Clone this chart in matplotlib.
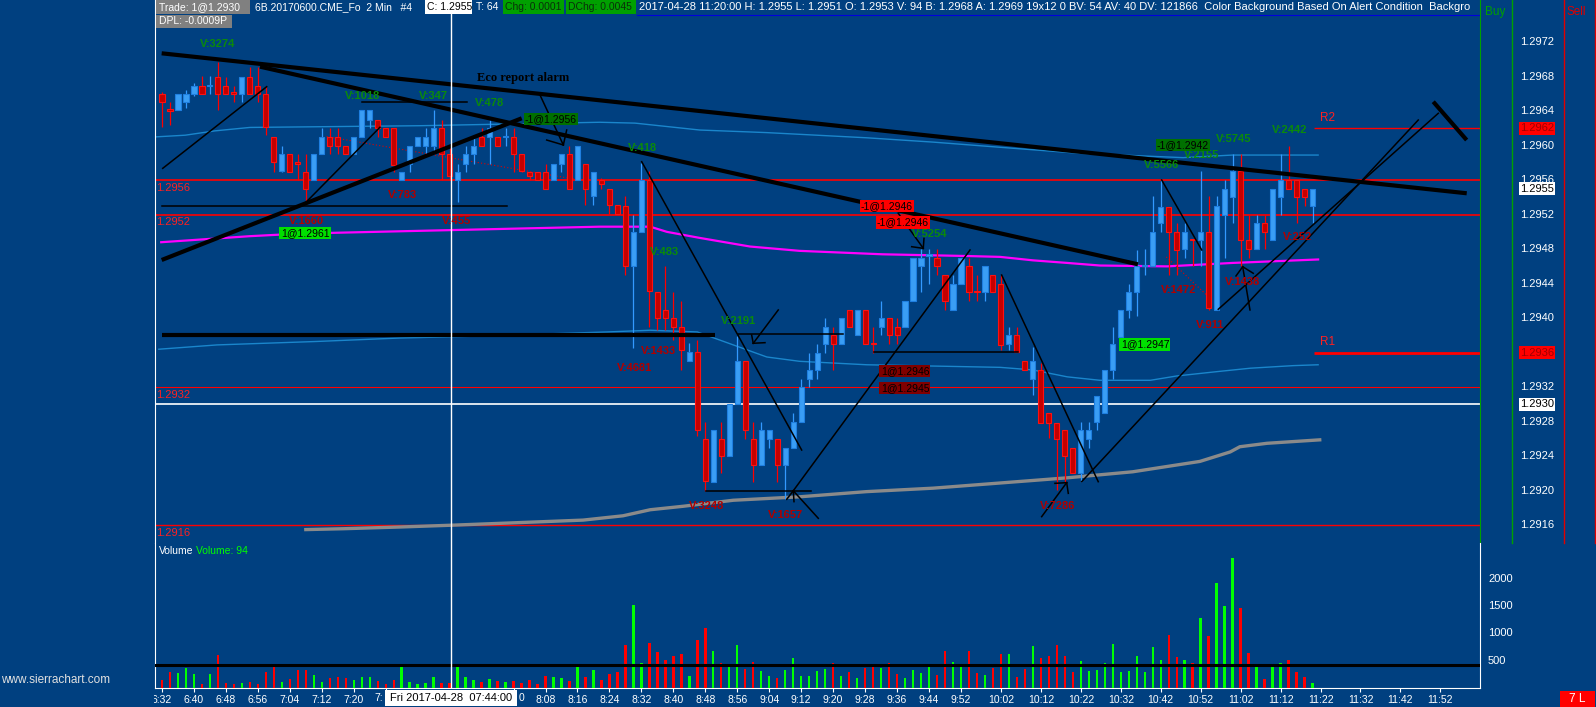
import matplotlib
matplotlib.use("Agg")
import matplotlib.pyplot as plt
from matplotlib.patches import Rectangle
from matplotlib.lines import Line2D
from matplotlib.transforms import blended_transform_factory

plt.rcParams['font.family'] = ['Liberation Sans', 'DejaVu Sans']

W, H = 1596, 707
BG = '#004080'

# 2 min bars 6:32 .. 11:20, prices in pips above 1.2900
opens = [66.0, 64.2, 64.1, 65.1, 66.0, 66.9, 66.9, 68.0, 66.9, 66.1,
         66.0, 68.0, 66.9, 66.0, 61.0, 57.1, 59.0, 58.0, 56.9, 56.0,
         59.0, 61.0, 61.0, 60.0, 59.0, 61.0, 63.0, 63.0, 62.0, 62.0,
         56.0, 57.9, 59.9, 59.9, 60.0, 62.0, 59.0, 56.0, 57.9, 59.0,
         61.0, 61.0, 61.0, 61.0, 61.0, 59.0, 56.9, 56.9, 56.9, 56.0,
         57.9, 59.0, 56.0, 57.9, 54.1, 56.0, 55.0, 53.1, 53.0, 46.0,
         50.0, 56.0, 43.0, 41.0, 40.0, 39.0, 35.0, 36.1, 26.0, 21.0,
         26.0, 24.0, 30.0, 35.0, 26.0, 23.0, 26.0, 26.0, 23.0, 25.0,
         28.0, 33.0, 34.0, 37.0, 38.0, 37.0, 41.0, 38.0, 41.0, 37.1,
         39.0, 40.0, 39.0, 39.0, 42.0, 46.0, 47.2, 47.0, 45.0, 41.0,
         44.0, 46.0, 43.1, 43.0, 45.0, 44.0, 37.0, 38.0, 35.0, 33.0,
         34.0, 29.0, 27.9, 27.0, 25.0, 22.0, 26.0, 28.0, 29.0, 34.0,
         37.8, 41.0, 43.0, 46.0, 46.0, 51.0, 52.9, 50.0, 48.0, 49.1,
         49.0, 50.0, 41.0, 52.0, 54.0, 57.0, 49.0, 48.0, 51.0, 49.0,
         54.0, 56.0, 56.0, 55.0, 53.0]
highs = [66.2, 65.1, 66.0, 66.4, 67.2, 68.1, 68.1, 69.7, 68.0, 66.9,
         68.0, 69.1, 69.1, 66.9, 61.0, 59.9, 59.0, 59.0, 59.0, 59.0,
         62.0, 62.0, 62.0, 60.0, 61.0, 64.1, 64.1, 63.0, 62.0, 62.0,
         56.9, 59.9, 61.0, 62.0, 64.1, 63.0, 59.9, 57.9, 59.9, 61.0,
         62.0, 63.0, 61.0, 62.0, 62.0, 59.0, 56.9, 56.9, 57.9, 57.9,
         59.0, 59.9, 59.9, 57.9, 56.9, 56.2, 55.0, 53.1, 54.1, 52.0,
         58.0, 57.0, 43.0, 46.0, 43.0, 42.0, 37.1, 37.5, 28.0, 27.0,
         28.0, 30.0, 37.9, 35.0, 28.0, 28.0, 27.0, 26.0, 25.0, 29.0,
         33.0, 36.0, 37.0, 40.0, 39.0, 40.0, 41.0, 41.0, 41.0, 39.0,
         42.0, 40.0, 40.0, 42.0, 47.0, 48.0, 48.0, 48.0, 45.0, 45.0,
         47.0, 47.0, 45.0, 46.0, 45.0, 45.0, 39.0, 39.0, 35.0, 36.7,
         34.8, 29.0, 27.9, 27.0, 25.0, 28.0, 28.0, 31.0, 34.0, 39.0,
         41.0, 44.0, 47.9, 48.0, 54.1, 56.0, 52.9, 51.0, 51.0, 49.1,
         57.0, 54.1, 54.1, 56.0, 59.0, 59.0, 52.0, 52.0, 52.0, 55.0,
         59.0, 60.0, 56.0, 55.0, 55.0]
lows = [62.1, 62.4, 64.1, 64.3, 65.8, 66.0, 66.0, 64.1, 66.0, 65.1,
        65.1, 66.0, 65.1, 61.2, 56.9, 56.9, 56.9, 56.0, 53.5, 56.0,
        59.0, 59.0, 59.0, 59.0, 59.0, 61.0, 62.0, 61.0, 61.0, 56.9,
        56.0, 56.9, 59.9, 59.0, 59.0, 56.0, 56.0, 53.5, 56.9, 57.9,
        60.0, 57.9, 60.0, 60.0, 56.9, 56.9, 56.0, 56.0, 55.0, 56.0,
        56.9, 55.0, 56.0, 53.1, 53.1, 55.0, 52.1, 52.1, 45.0, 36.5,
        50.0, 39.0, 38.6, 38.6, 37.5, 34.0, 35.0, 26.3, 20.0, 21.0,
        22.0, 24.0, 30.0, 26.0, 21.0, 23.0, 25.0, 21.0, 19.0, 25.0,
        28.0, 32.0, 33.0, 36.0, 34.0, 37.0, 39.0, 38.0, 37.0, 36.0,
        38.0, 37.0, 37.0, 39.0, 42.0, 43.0, 44.0, 45.0, 41.0, 41.0,
        44.0, 42.0, 42.0, 42.0, 43.0, 36.3, 36.3, 36.1, 34.0, 31.1,
        27.9, 26.1, 20.1, 20.9, 22.0, 21.0, 25.0, 27.0, 29.0, 33.0,
        37.8, 40.0, 40.2, 45.0, 46.0, 50.0, 45.0, 45.0, 47.0, 46.0,
        46.0, 41.0, 41.0, 47.0, 51.0, 46.0, 47.0, 48.0, 48.0, 49.0,
        52.0, 55.0, 51.0, 53.0, 51.0]
closes = [65.1, 64.0, 66.0, 66.0, 66.9, 66.0, 67.0, 66.0, 66.0, 66.0,
          68.0, 66.0, 66.0, 62.1, 58.1, 59.0, 56.9, 57.9, 55.0, 59.0,
          61.0, 60.0, 60.0, 59.0, 61.0, 64.1, 64.1, 62.0, 61.0, 57.7,
          56.9, 59.9, 61.0, 61.0, 62.0, 59.0, 56.5, 56.9, 59.0, 60.0,
          60.0, 62.0, 60.0, 61.1, 59.0, 57.1, 56.5, 56.0, 55.0, 57.9,
          59.0, 55.0, 59.9, 55.0, 56.9, 55.6, 53.1, 52.1, 46.0, 50.0,
          56.0, 43.1, 40.0, 40.0, 39.0, 36.3, 36.1, 27.0, 21.1, 27.0,
          24.0, 30.0, 35.0, 27.0, 23.0, 27.0, 27.0, 23.0, 25.0, 28.0,
          32.0, 34.0, 36.0, 39.0, 37.0, 40.0, 39.0, 41.0, 37.0, 37.0,
          40.0, 38.0, 38.0, 42.0, 47.0, 47.0, 47.4, 46.0, 42.0, 44.0,
          47.0, 43.0, 43.0, 46.0, 43.0, 36.9, 38.0, 36.1, 34.0, 35.0,
          27.9, 27.9, 26.0, 24.0, 22.0, 27.0, 27.0, 31.0, 34.0, 37.0,
          41.0, 43.0, 46.0, 46.2, 50.0, 52.9, 50.0, 47.9, 50.0, 49.0,
          50.0, 41.2, 53.0, 55.0, 57.0, 49.0, 48.0, 51.0, 50.0, 55.0,
          56.0, 55.0, 54.0, 54.0, 55.0]
volumes = [146, 299, 268, 372, 256, 73, 256, 598, 85, 73,
           92, 104, 73, 293, 384, 110, 165, 329, 329, 238,
           110, 189, 201, 189, 146, 201, 201, 128, 73, 146,
           403, 110, 73, 92, 201, 92, 92, 384, 201, 146,
           110, 165, 128, 110, 128, 92, 146, 73, 220, 201,
           189, 128, 384, 201, 329, 146, 256, 293, 787, 1519,
           457, 823, 659, 518, 585, 622, 220, 878, 1098, 677,
           457, 384, 787, 348, 476, 311, 220, 183, 329, 549,
           220, 220, 311, 348, 457, 220, 293, 183, 366, 403,
           366, 457, 256, 183, 329, 275, 403, 238, 677, 476,
           384, 677, 275, 238, 366, 622, 622, 201, 348, 769,
           549, 585, 787, 585, 293, 494, 311, 329, 457, 805,
           293, 311, 585, 293, 750, 512, 970, 567, 512, 457,
           1281, 952, 1922, 1501, 2379, 1464, 640, 403, 165, 403,
           457, 512, 293, 201, 94]

# study lines (bar index, pips)
upper_x = [-0.9, 2.9, 6.6, 11.0, 32.3, 54.8, 59.2, 67.3, 75.7, 88.2, 96.5, 104.9, 114.9, 127.8, 134.0, 144.7]
upper_y = [61.0, 61.2, 61.7, 62.1, 62.3, 62.7, 62.6, 61.8, 61.5, 60.9, 60.4, 59.8, 59.1, 58.6, 58.9, 58.9]
lower_x = [-0.4, 6.9, 19.4, 29.8, 38.8, 55.7, 61.1, 67.0, 71.5, 75.7, 79.8, 88.2, 104.9, 109.0, 113.3,
           117.4, 123.7, 127.0, 132.0, 136.2, 141.6, 144.7]
lower_y = [36.4, 36.9, 37.3, 37.7, 37.9, 38.4, 38.6, 38.4, 36.9, 35.5, 35.0, 34.6, 34.3, 34.0, 33.2,
           32.8, 32.8, 33.3, 33.8, 34.2, 34.5, 34.6]
vwap_x = [-0.1, 11.0, 17.3, 36.0, 54.8, 61.1, 63.2, 67.3, 73.6, 79.8, 90.2, 100.8, 104.9, 109.0, 113.3,
          117.4, 125.8, 129.9, 134.0, 144.7]
vwap_y = [48.8, 49.5, 49.8, 50.2, 50.6, 50.6, 50.0, 49.3, 48.3, 47.8, 47.4, 47.2, 47.1, 46.7, 46.4,
          46.1, 46.0, 46.2, 46.4, 46.8]
gray_x = [18.0, 22.7, 29.8, 36.0, 44.4, 52.7, 57.7, 61.1, 65.2, 71.5, 79.8, 88.2, 96.5, 104.9, 113.3, 121.5,
          129.9, 133.7, 134.9, 138.3, 144.9]
gray_y = [15.5, 15.6, 15.8, 16.0, 16.3, 16.6, 17.1, 17.8, 18.2, 18.9, 19.3, 19.9, 20.3, 20.9, 21.5, 22.2,
          23.4, 24.5, 25.1, 25.5, 25.9]

# hand drawn lines: x0, y0, x1, y1 (bar index, pips)
thick_lines = [(-0.04, 70.69, 163.3, 54.47), (12.27, 69.14, 122.15, 46.24),
               (-0.04, 46.74, 45.02, 63.16), (-0.04, 38.05, 69.21, 38.05),
               (159.11, 65.08, 163.29, 60.64)]
thin_lines = [(0.09, 57.36, 13.1, 66.82), (17.68, 53.11, 27.28, 62.12),
              (-0.04, 53.03, 43.14, 53.03), (24.99, 65.08, 38.14, 65.08),
              (47.31, 65.86, 50.23, 60.07), (48.15, 60.64, 50.23, 60.07), (50.65, 61.8, 50.23, 60.07),
              (60.04, 58.13, 80.06, 24.72),
              (77.13, 40.95, 74.0, 37.09), (75.47, 37.16, 74.0, 37.09), (73.8, 38.05, 74.0, 37.09),
              (72.13, 38.13, 85.27, 38.13), (79.01, 20.0, 101.13, 47.9), (68.09, 20.0, 81.19, 20.0),
              (82.14, 16.81, 79.01, 20.0), (78.19, 19.01, 79.01, 20.0), (79.1, 18.74, 79.01, 20.0),
              (89.11, 36.11, 107.17, 36.11),
              (92.15, 52.15, 95.28, 48.09), (93.83, 48.28, 95.28, 48.09), (95.37, 49.25, 95.28, 48.09),
              (105.09, 45.0, 117.18, 21.05), (115.1, 21.05, 157.23, 62.96),
              (132.2, 41.03, 159.74, 63.74), (125.12, 56.01, 130.13, 47.9),
              (110.1, 17.0, 113.23, 20.94), (111.76, 20.86, 113.23, 20.94), (113.43, 19.7, 113.23, 20.94),
              (136.17, 40.95, 135.26, 45.96), (134.42, 44.89, 135.26, 45.96), (136.58, 45.2, 135.26, 45.96)]
# dotted trade connectors
trade_paths = [(20.6, 61.05, 52.3, 56.0), (125.7, 47.1, 131.4, 42.1)]

high_labels = [("V:3274", 7.0, 71.77), ("V:1018", 25.1, 65.74), ("V:347", 34.04, 65.74),
               ("V:478", 40.99, 64.9), ("V:418", 60.14, 59.68), ("V:483", 62.95, 47.7),
               ("V:2191", 72.13, 39.67), ("V:5254", 96.12, 49.75), ("V:5566", 125.12, 57.75),
               ("V:2155", 130.16, 58.91), ("V:5745", 134.13, 60.76), ("V:2442", 141.18, 61.8)]
low_labels = [("V:783", 30.1, 54.27), ("V:1660", 18.06, 51.26), ("V:455", 36.92, 51.26),
              ("V:1433", 62.08, 36.19), ("V:4681", 59.14, 34.19), ("V:3248", 68.12, 18.23),
              ("V:1657", 78.1, 17.19), ("V:7286", 112.14, 18.23), ("V:1472", 127.2, 43.26),
              ("V:1438", 135.29, 44.22), ("V:911", 131.16, 39.21), ("V:252", 142.18, 49.37)]
trade_labels = [("1@1.2961", 17.9, 49.87, '#00e000'), ("-1@1.2956", 48.69, 63.08, '#007000'),
                ("-1@1.2946", 90.74, 53.0, '#ff0000'), ("-1@1.2946", 92.74, 51.08, '#ff0000'),
                ("1@1.2946", 92.99, 33.88, '#800000'), ("1@1.2945", 92.99, 31.91, '#800000'),
                ("1@1.2947", 123.03, 36.95, '#00e000'), ("-1@1.2942", 127.78, 60.06, '#007000')]

price_ticks = [1.2972, 1.2968, 1.2964, 1.2960, 1.2956, 1.2952, 1.2948, 1.2944, 1.2940,
               1.2932, 1.2928, 1.2924, 1.2920, 1.2916]
vol_ticks = [500, 1000, 1500, 2000]
# 7:28 .. 8:00 sit under the cursor date box (only "7:" and the last "0" peek out)
time_pos = [0, 4, 8, 12, 16, 20, 24, 28, 44, 48, 52, 56, 60, 64, 68, 72, 76, 80,
            84, 88, 92, 96, 100, 105, 110, 115, 120, 125, 130, 135, 140, 145, 150, 155, 160]
time_labels = ['6:32', '6:40', '6:48', '6:56', '7:04', '7:12', '7:20', '',
               '', '8:08', '8:16', '8:24', '8:32', '8:40', '8:48', '8:56', '9:04',
               '9:12', '9:20', '9:28', '9:36', '9:44', '9:52', '10:02', '10:12', '10:22', '10:32',
               '10:42', '10:52', '11:02', '11:12', '11:22', '11:32', '11:42', '11:52']


def pr(v):
    return 1.29 + v / 10000.0


def fx(x):
    return x / W


def fy(y):
    return 1 - y / H


fig = plt.figure(figsize=(W / 100, H / 100), dpi=100, facecolor=BG)

# ---------------- price panel ----------------
ax = fig.add_axes([fx(155), fy(543), 1325 / W, 543 / H])
ax.set_facecolor(BG)
ax.set_xlim(-0.876, 164.96)
ax.set_ylim(1.2972 - 501 / 86300, 1.2972 + 42 / 86300)
ax.set_xticks([])
ax.set_yticks([])
for s in ax.spines.values():
    s.set_visible(False)
ax.spines['left'].set_visible(True)
ax.spines['left'].set_color('white')
ax.spines['right'].set_visible(True)
ax.spines['right'].set_color('#00a000')

for lvl, lw in [(1.2956, 1.2), (1.2952, 1.2), (1.2932, 0.8), (1.2916, 1.0)]:
    ax.axhline(lvl, color='#ff0000', lw=lw, zorder=2)
    ax.text(-0.8, lvl - 0.00003, '%.4f' % lvl, color='#ff2020', fontsize=8, ha='left', va='top', zorder=2)
ax.axhline(1.2930, color='white', lw=1.2, zorder=2)
ax.hlines(1.2962, 144.2, 164.96, color='#ff0000', lw=1.0, zorder=2)
ax.hlines(1.2936, 144.2, 164.96, color='#ff0000', lw=2.0, zorder=2)
ax.text(144.9, 1.29625, 'R2', color='#ff2020', fontsize=8.5, ha='left', va='bottom')
ax.text(144.9, 1.29365, 'R1', color='#ff2020', fontsize=8.5, ha='left', va='bottom')

ax.plot(upper_x, [pr(v) for v in upper_y], color='#1a86cc', lw=1.0, zorder=2)
ax.plot(lower_x, [pr(v) for v in lower_y], color='#1a86cc', lw=1.0, zorder=2)
ax.plot(gray_x, [pr(v) for v in gray_y], color='#8a8a8a', lw=2.4, zorder=2)
ax.plot(vwap_x, [pr(v) for v in vwap_y], color='#ff00ff', lw=1.6, zorder=3)
for x0, y0, x1, y1 in trade_paths:
    ax.plot([x0, x1], [pr(y0), pr(y1)], color='#e00000', lw=0.8, ls=(0, (1, 2)), zorder=3)

idx = list(range(len(opens)))
up = [c >= o for o, c in zip(opens, closes)]
ax.vlines(idx, [pr(v) for v in lows], [pr(v) for v in highs],
          colors=['#3399ff' if u else '#ff0000' for u in up], linewidth=0.9, zorder=4)
ax.bar(idx, [max(abs(c - o), 0.15) / 10000 for o, c in zip(opens, closes)],
       bottom=[pr(min(o, c)) for o, c in zip(opens, closes)], width=0.64,
       color=['#3a9ef5' if u else '#c40000' for u in up],
       edgecolor=['#1f7fe0' if u else '#ff1010' for u in up], linewidth=0.8, zorder=5)

for x0, y0, x1, y1 in thick_lines:
    ax.plot([x0, x1], [pr(y0), pr(y1)], color='black', lw=3.0, solid_capstyle='butt', zorder=6)
for x0, y0, x1, y1 in thin_lines:
    ax.plot([x0, x1], [pr(y0), pr(y1)], color='black', lw=1.1, zorder=6)

ax.axvline(36.17, color='white', lw=1.0, zorder=6)

for s, x, y in high_labels:
    ax.text(x, pr(y), s, color='#0b8a0b', fontsize=8, fontweight='bold', ha='center', va='center', zorder=7)
for s, x, y in low_labels:
    ax.text(x, pr(y), s, color='#b00000', fontsize=8, fontweight='bold', ha='center', va='center', zorder=7)
for s, x, y, c in trade_labels:
    ax.text(x, pr(y), s, color='black', fontsize=7.5, ha='center', va='center', zorder=8,
            bbox=dict(boxstyle='square,pad=0.12', fc=c, ec='none'))
ax.text(45.2, pr(67.86), 'Eco report alarm', family=['Liberation Serif', 'DejaVu Serif'],
        color='black', fontsize=9, fontweight='bold', ha='center', va='center', zorder=7)

tr = blended_transform_factory(ax.transAxes, ax.transData)
xa = (1537 - 155) / 1325
for p in price_ticks:
    ax.text(xa, p, '%.4f' % p, transform=tr, color='white', fontsize=8, ha='center', va='center',
            clip_on=False, zorder=5)
for p, fc, tc in [(1.2962, '#ff0000', '#a00000'), (1.2936, '#ff0000', '#a00000'),
                  (1.2955, 'white', 'black'), (1.2930, 'white', 'black')]:
    ax.text(xa, p, '%.4f' % p, transform=tr, color=tc, fontsize=8, ha='center', va='center',
            clip_on=False, zorder=9, bbox=dict(boxstyle='square,pad=0.12', fc=fc, ec='none'))

# ---------------- volume panel ----------------
axv = fig.add_axes([fx(155), fy(688), 1325 / W, 145 / H])
axv.set_facecolor(BG)
axv.set_xlim(-0.876, 164.96)
axv.set_ylim(0, 145 / 27.3 * 500)
axv.spines['top'].set_visible(False)
for k in ['left', 'bottom', 'right']:
    axv.spines[k].set_color('white')
axv.bar(idx, volumes, width=0.3, color=['#00ff00' if u else '#ff0000' for u in up], zorder=3)
axv.axhline(430, color='black', lw=2.2, zorder=4)
axv.axvline(36.17, color='white', lw=1.0, zorder=5)
axv.set_yticks([])
axv.set_xticks(time_pos)
axv.set_xticklabels(time_labels, color='white', fontsize=7.5)
axv.tick_params(axis='x', length=3, color='white', pad=2)
trv = blended_transform_factory(axv.transAxes, axv.transData)
for v in vol_ticks:
    axv.text((1488 - 155) / 1325, v, str(v), transform=trv, color='white', fontsize=8,
             ha='left', va='center', clip_on=False)
axv.text(0.003, 0.945, 'Volume', transform=axv.transAxes, color='white', fontsize=7.5, va='center')
axv.text(0.031, 0.945, 'Volume: 94', transform=axv.transAxes, color='#00ff00', fontsize=7.5, va='center')

# ---------------- header ----------------
hx = fig.add_axes([fx(155), fy(28), 1325 / W, 28 / H])
hx.set_xlim(155, 1480)
hx.set_ylim(28, 0)
hx.axis('off')
hx.patch.set_alpha(0)
for x0, x1, y0, y1, c in [(156, 250, 0, 14, '#808080'), (425, 472, 0, 14, 'white'),
                          (503, 564, 0, 14, '#00a000'), (566, 636, 0, 14, '#00a000'),
                          (156, 232, 15, 28, '#808080')]:
    hx.add_patch(Rectangle((x0, y0), x1 - x0, y1 - y0, fc=c, ec='none', zorder=2))
hdr = [(159, 7, 'Trade: 1@1.2930', 'white'), (255, 7, '6B.20170600.CME_Fo  2 Min   #4', 'white'),
       (427, 7, 'C: 1.2955', 'black'), (476, 7, 'T: 64', 'white'), (505, 7, 'Chg: 0.0001', '#0a300a'),
       (568, 7, 'DChg: 0.0045', '#0a300a'),
       (639, 7, '2017-04-28 11:20:00 H: 1.2955 L: 1.2951 O: 1.2953 V: 94 B: 1.2968 A: 1.2969 19x12 0 '
                'BV: 54 AV: 40 DV: 121866  Color Background Based On Alert Condition  Backgro', 'white'),
       (159, 21.5, 'DPL: -0.0009P', 'white')]
for x, y, s, c in hdr:
    hx.text(x, y, s, color=c, fontsize=8 if x > 600 else 7.5, ha='left', va='center', clip_on=True, zorder=3)
hx.plot([637, 1480], [14.5, 14.5], color='#0000dd', lw=0.8, zorder=2)

# ---------------- right columns and chrome ----------------
for x, c in [(1511.7, '#00a000'), (1563.7, '#e00000'), (1594.7, '#e00000')]:
    fig.add_artist(Line2D([fx(x), fx(x)], [fy(0), fy(543)], color=c, lw=1.0))
fig.text(fx(1495), fy(12), 'Buy', color='#00a000', fontsize=8.5, ha='center', va='center')
fig.text(fx(1576), fy(12), 'Sell', color='#e00000', fontsize=8.5, ha='center', va='center')

fig.add_artist(Rectangle((0, 0), fx(154), fy(689), transform=fig.transFigure, fc=BG, ec='none', zorder=1))
fig.add_artist(Rectangle((fx(385), fy(706)), fx(517) - fx(385), fy(690) - fy(706),
                         transform=fig.transFigure, fc='white', ec='none', zorder=5))
fig.text(fx(451), fy(698), 'Fri 2017-04-28  07:44:00', color='black', fontsize=8,
         ha='center', va='center', zorder=6)
fig.text(fx(383), fy(698), '7:', color='white', fontsize=7.5, ha='right', va='center')
fig.text(fx(519), fy(698), '0', color='white', fontsize=7.5, ha='left', va='center')
fig.add_artist(Rectangle((fx(1560), 0), fx(1595) - fx(1560), fy(691), transform=fig.transFigure,
                         fc='#ff0000', ec='none', zorder=5))
fig.text(fx(1577.5), fy(699), '7 L', color='white', fontsize=8.5, ha='center', va='center', zorder=6)
fig.text(fx(1), fy(680), 'www.sierrachart.com', color='#e0e0e0', fontsize=8.5, ha='left', va='center')

fig.savefig('out.png', dpi=100, facecolor=BG)
